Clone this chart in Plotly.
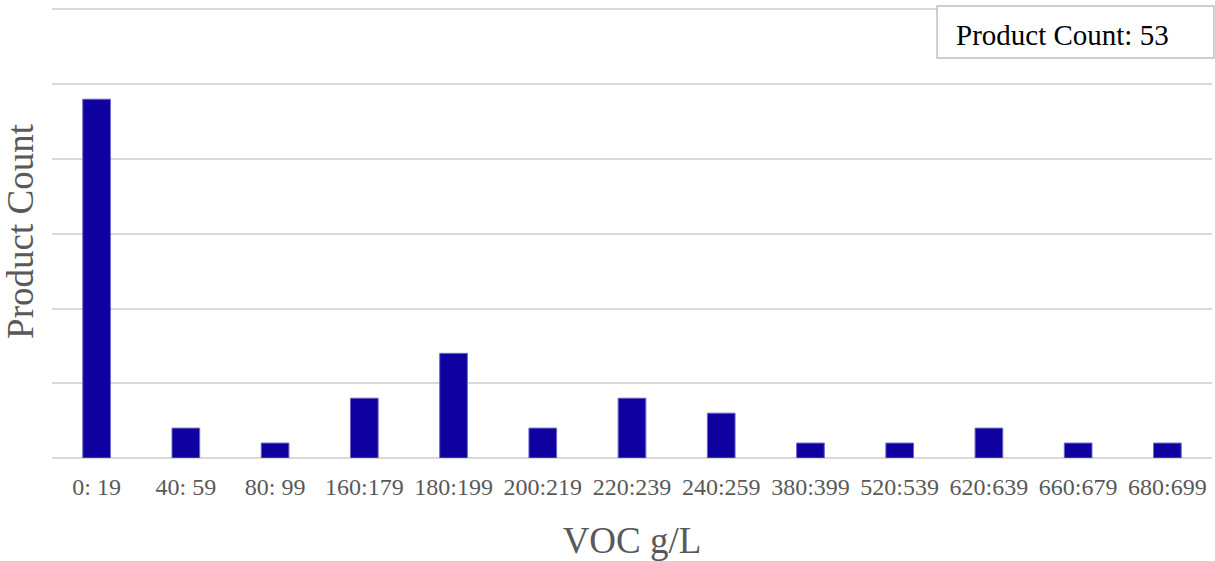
import plotly.graph_objects as go

# VOC ranges (g/L) and number of products in each range
voc_ranges = ["0: 19", "40: 59", "80: 99", "160:179", "180:199", "200:219", "220:239",
              "240:259", "380:399", "520:539", "620:639", "660:679", "680:699"]
product_counts = [24, 2, 1, 4, 7, 2, 4, 3, 1, 1, 2, 1, 1]

total = sum(product_counts)

fig = go.Figure()
fig.add_trace(go.Bar(
    x=voc_ranges,
    y=product_counts,
    marker=dict(color="#0f00a0", line=dict(color="#6a64c8", width=1)),
))

fig.update_layout(
    width=1215, height=561,
    margin=dict(l=52, r=3, t=5, b=103),
    plot_bgcolor="white", paper_bgcolor="white",
    font=dict(family="Liberation Serif, Times New Roman, serif", color="#595959"),
    bargap=0.69,
    showlegend=False,
    xaxis=dict(
        title=dict(text="VOC g/L", font=dict(size=37, color="#595959"), standoff=32),
        tickfont=dict(size=24, color="#595959"),
        ticklabelstandoff=12,
        showgrid=False, showline=False, ticks="",
        automargin=False,
    ),
    yaxis=dict(
        title=dict(text="Product Count", font=dict(size=37, color="#595959"), standoff=6),
        range=[0, 30.3], tickvals=[0, 5, 10, 15, 20, 25, 30], showticklabels=False,
        gridcolor="#d9d9d9", gridwidth=1.5,
        zeroline=True, zerolinecolor="#d9d9d9", zerolinewidth=1.5,
        automargin=False,
    ),
)

# summary box in the top right corner
fig.add_shape(
    type="rect", xref="paper", yref="paper",
    x0=0.763, x1=1.0017, y0=0.883, y1=0.998,
    line=dict(color="#bfbfbf", width=1.5), fillcolor="white", layer="above",
)
fig.add_annotation(
    text=f"Product Count: {total}",
    xref="paper", yref="paper", x=0.778, y=0.933, xanchor="left", yanchor="middle",
    showarrow=False, font=dict(size=29, color="black"),
)

fig.write_html("out.html", config={"displayModeBar": False},
               post_script="document.body.style.margin='0';")
